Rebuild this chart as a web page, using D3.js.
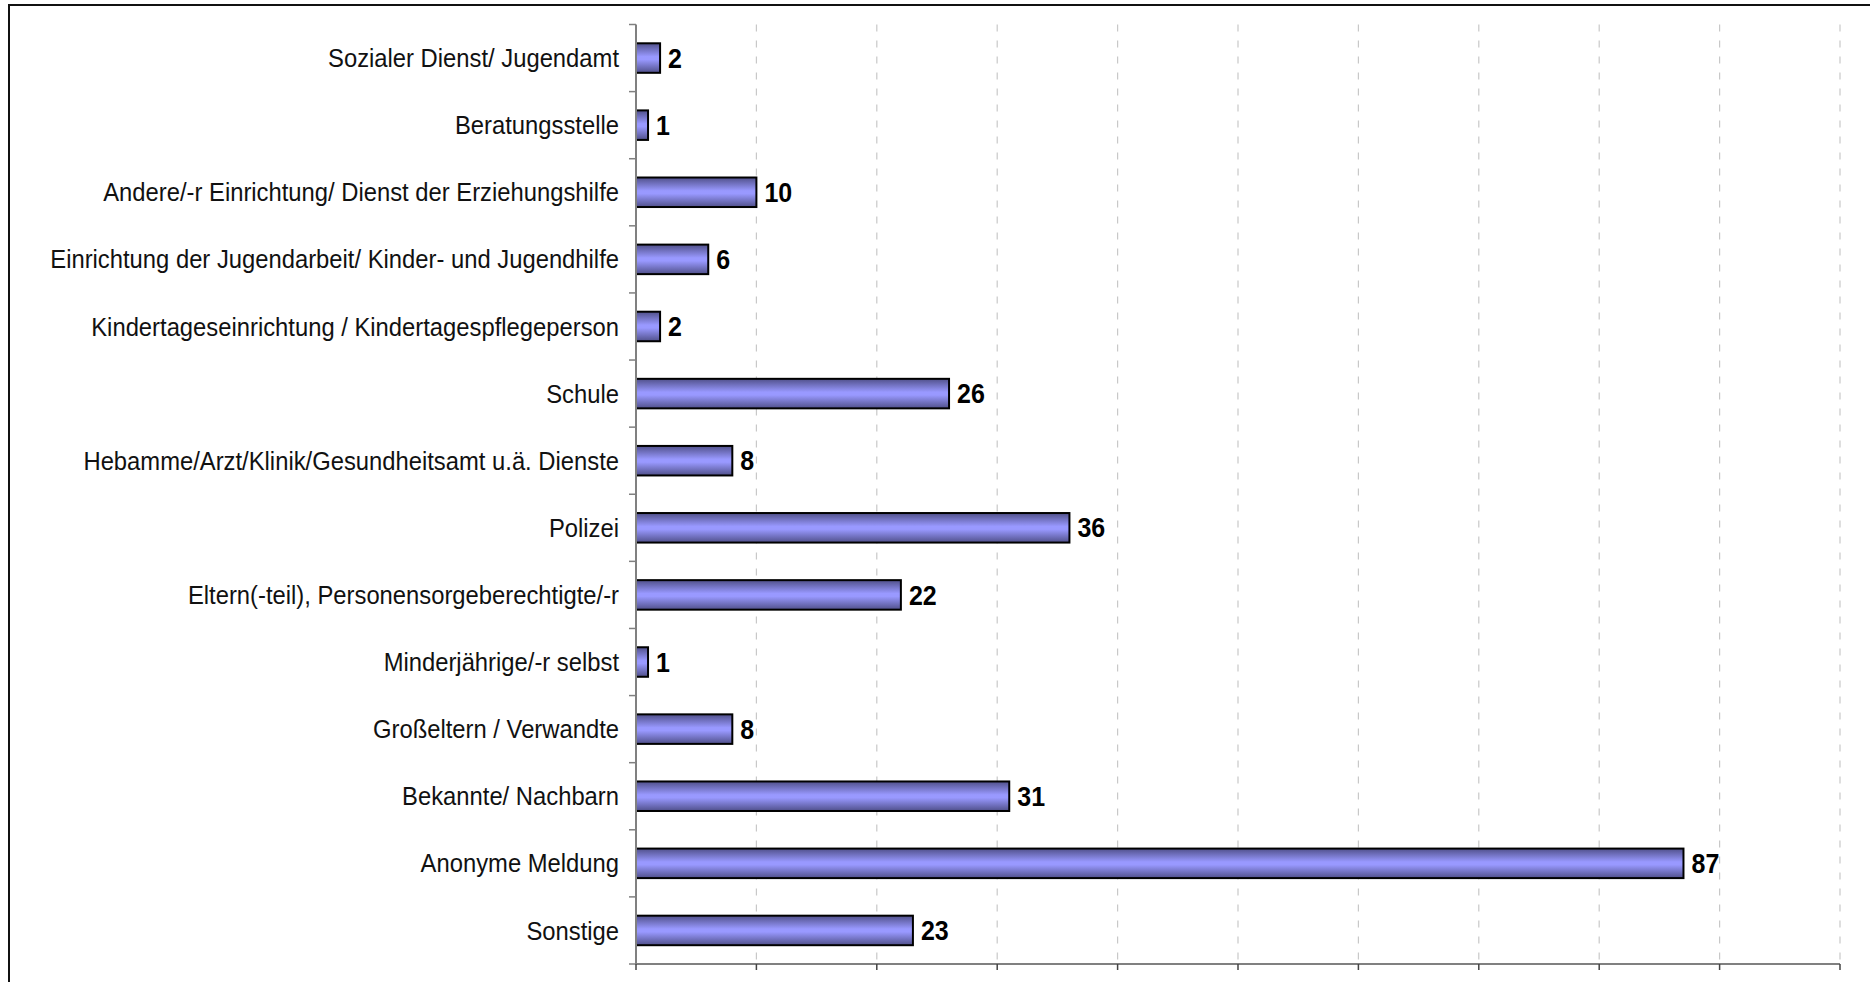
<!DOCTYPE html>
<html>
<head>
<meta charset="utf-8">
<script src="https://cdn.jsdelivr.net/npm/d3@7"></script>
<style>
  body { margin: 0; background: #fff; }
  svg { display: block; font-family: "Liberation Sans", Arial, sans-serif; }
</style>
</head>
<body>
<svg width="1870" height="982"></svg>
<script>
// categories from top to bottom, with their counts
var categories = [
  "Sozialer Dienst/ Jugendamt",
  "Beratungsstelle",
  "Andere/-r Einrichtung/ Dienst der Erziehungshilfe",
  "Einrichtung der Jugendarbeit/ Kinder- und Jugendhilfe",
  "Kindertageseinrichtung / Kindertagespflegeperson",
  "Schule",
  "Hebamme/Arzt/Klinik/Gesundheitsamt u.ä. Dienste",
  "Polizei",
  "Eltern(-teil), Personensorgeberechtigte/-r",
  "Minderjährige/-r selbst",
  "Großeltern / Verwandte",
  "Bekannte/ Nachbarn",
  "Anonyme Meldung",
  "Sonstige"
];
var values = [2, 1, 10, 6, 2, 26, 8, 36, 22, 1, 8, 31, 87, 23];
var xTicks = [0, 10, 20, 30, 40, 50, 60, 70, 80, 90, 100];

var svg = d3.select("svg"),
    plotLeft = 636, plotRight = 1840, plotTop = 24.5, plotBottom = 964;

var x = d3.scaleLinear().domain([0, 100]).range([plotLeft, plotRight]);
var y = d3.scaleBand().domain(categories).range([plotTop, plotBottom]).paddingInner(0.56).paddingOuter(0.28);

// bar gradient (dark edges, light middle)
var grad = svg.append("defs").append("linearGradient")
    .attr("id", "barGrad")
    .attr("x1", 0).attr("y1", 0).attr("x2", 0).attr("y2", 1);
grad.append("stop").attr("offset", "0%").attr("stop-color", "#50508a");
grad.append("stop").attr("offset", "45%").attr("stop-color", "#9999ff");
grad.append("stop").attr("offset", "55%").attr("stop-color", "#9999ff");
grad.append("stop").attr("offset", "100%").attr("stop-color", "#50508a");

// outer frame (only top and left edges visible)
svg.append("path")
    .attr("d", "M9,982V5H1870")
    .attr("fill", "none")
    .attr("stroke", "#111")
    .attr("stroke-width", 2);

// dashed gridlines
svg.append("g")
  .selectAll("line")
  .data(xTicks.slice(1))
  .enter().append("line")
    .attr("x1", function(d) { return x(d); })
    .attr("x2", function(d) { return x(d); })
    .attr("y1", plotTop)
    .attr("y2", plotBottom)
    .attr("stroke", "#c8c8c8")
    .attr("stroke-width", 1.2)
    .attr("stroke-dasharray", "7,9");

// bars
svg.append("g")
  .selectAll("rect")
  .data(values)
  .enter().append("rect")
    .attr("x", x(0))
    .attr("y", function(d, i) { return y(categories[i]); })
    .attr("width", function(d) { return x(d) - x(0); })
    .attr("height", y.bandwidth())
    .attr("fill", "url(#barGrad)")
    .attr("stroke", "#000")
    .attr("stroke-width", 2);

// value labels (slightly stretched vertically like the original)
svg.append("g")
  .selectAll("text")
  .data(values)
  .enter().append("text")
    .attr("transform", function(d, i) {
      return "translate(" + (x(d) + 8) + "," + (y(categories[i]) + y.bandwidth() / 2) + ")scale(1,1.07)";
    })
    .attr("dy", "0.36em")
    .attr("font-size", 25)
    .attr("font-weight", "bold")
    .attr("fill", "#000")
    .text(function(d) { return d; });

// y axis: line, ticks at band boundaries, labels
var step = (plotBottom - plotTop) / categories.length;
var yAxis = svg.append("g");
yAxis.append("line")
    .attr("x1", plotLeft).attr("x2", plotLeft)
    .attr("y1", plotTop).attr("y2", plotBottom)
    .attr("stroke", "#808080").attr("stroke-width", 2);
yAxis.selectAll("line.tick")
  .data(d3.range(categories.length + 1))
  .enter().append("line")
    .attr("class", "tick")
    .attr("x1", plotLeft - 7).attr("x2", plotLeft)
    .attr("y1", function(i) { return plotTop + i * step; })
    .attr("y2", function(i) { return plotTop + i * step; })
    .attr("stroke", "#808080").attr("stroke-width", 1.5);
yAxis.selectAll("text")
  .data(categories)
  .enter().append("text")
    .attr("transform", function(d) {
      return "translate(" + (plotLeft - 17) + "," + (y(d) + y.bandwidth() / 2) + ")scale(1,1.06)";
    })
    .attr("dy", "0.36em")
    .attr("text-anchor", "end")
    .attr("font-size", 23.8)
    .attr("fill", "#111")
    .text(function(d) { return d; });

// x axis: line and ticks, no labels
var xAxis = svg.append("g");
xAxis.append("line")
    .attr("x1", plotLeft).attr("x2", plotRight)
    .attr("y1", plotBottom).attr("y2", plotBottom)
    .attr("stroke", "#808080").attr("stroke-width", 2);
xAxis.selectAll("line.tick")
  .data(xTicks)
  .enter().append("line")
    .attr("class", "tick")
    .attr("x1", function(d) { return x(d); })
    .attr("x2", function(d) { return x(d); })
    .attr("y1", plotBottom).attr("y2", plotBottom + 6)
    .attr("stroke", "#444").attr("stroke-width", 1.5);
</script>
</body>
</html>
